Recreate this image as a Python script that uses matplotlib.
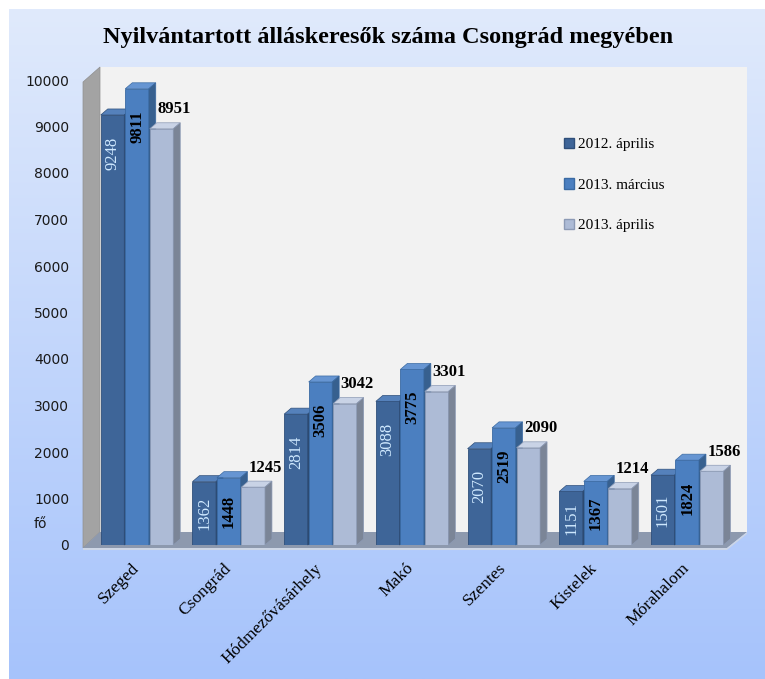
import numpy as np
import matplotlib
matplotlib.use("Agg")
import matplotlib.pyplot as plt
from matplotlib.patches import Polygon, Patch
from matplotlib.transforms import ScaledTranslation

# adatok
cities = ["Szeged", "Csongrád", "Hódmezővásárhely", "Makó", "Szentes", "Kistelek", "Mórahalom"]
apr_2012 = [9248, 1362, 2814, 3088, 2070, 1151, 1501]
mar_2013 = [9811, 1448, 3506, 3775, 2519, 1367, 1824]
apr_2013 = [8951, 1245, 3042, 3301, 2090, 1214, 1586]
series_names = ["2012. április", "2013. március", "2013. április"]
y_ticks = list(range(0, 10001, 1000))
title = "Nyilvántartott álláskeresők száma Csongrád megyében"

series = [apr_2012, mar_2013, apr_2013]
# front, top, side, edge
colors = [
    ("#3e6598", "#5581bb", "#2c4a72", "#2f4f7a"),
    ("#4b7fc0", "#6695d2", "#37608f", "#3a6aa3"),
    ("#adbbd6", "#c9d3e6", "#7b8597", "#8c9ab5"),
]
serif = "Liberation Serif"

W, H = 765, 679
fig = plt.figure(figsize=(W / 100, H / 100), dpi=100)
fig.patch.set_facecolor("white")

# hatter szinatmenet
bg = fig.add_axes([9 / W, 0, 1 - 9 / W, 1 - 9 / H])
grad = np.linspace(0, 1, 256).reshape(-1, 1)
top_c = np.array([0xe0, 0xea, 0xfc]) / 255
bot_c = np.array([0xa6, 0xc3, 0xfb]) / 255
img = top_c[None, None, :] * (1 - grad[:, :, None]) + bot_c[None, None, :] * grad[:, :, None]
bg.imshow(img, aspect="auto", extent=[0, 1, 0, 1])
bg.axis("off")

# fo tengely (elso sik: x 83..727 px, y 0 -> 545 px, 10000 -> 80 px)
ax = fig.add_axes([83 / W, (H - 545) / H, (727 - 83) / W, 465 / H])
ux = 91.7            # px / kategoria
uy = 465 / 10000     # px / fo
x0 = -(137 - 83) / ux
ax.set_xlim(x0, x0 + (727 - 83) / ux)
ax.set_ylim(0, 10000)
ax.patch.set_visible(False)
for s in ax.spines.values():
    s.set_visible(False)


def P(xp, yp):
    return (x0 + (xp - 83) / ux, (545 - yp) / uy)


# falak, padlo
back = Polygon([P(100, 532), P(747, 532), P(747, 67), P(100, 67)], closed=True,
               facecolor="#f2f2f2", edgecolor="none", zorder=0.5, clip_on=False)
left = Polygon([P(83, 548), P(83, 82), P(100, 67), P(100, 532)], closed=True,
               facecolor="#a3a3a3", edgecolor="#8f8f8f", lw=0.5, zorder=0.6, clip_on=False)
floor = Polygon([P(83, 548), P(727, 548), P(747, 532), P(100, 532)], closed=True,
                facecolor="#8d99ae", edgecolor="none", zorder=0.6, clip_on=False)
floor_edge = Polygon([P(83, 548), P(727, 548), P(747, 532), P(747, 534), P(727, 550), P(83, 550)],
                     closed=True, facecolor="#cdd6e6", edgecolor="none", zorder=0.7, clip_on=False)
for p in (back, left, floor, floor_edge):
    ax.add_patch(p)

bw = 23.5 / ux
step = 24.5 / ux
ddx = 7 / ux
ddy = 6 / uy
x = np.arange(len(cities))

for j, vals in enumerate(series):
    front, topc, side, edge = colors[j]
    for i, h in enumerate(vals):
        z = 2 + i * 4 + j
        xl = x[i] + (j - 1) * step - bw / 2
        ax.bar(xl, h, width=bw, align="edge", color=front, edgecolor=edge, lw=0.6, zorder=z)
        ax.add_patch(Polygon([(xl, h), (xl + bw, h), (xl + bw + ddx, h + ddy), (xl + ddx, h + ddy)],
                             closed=True, facecolor=topc, edgecolor=edge, lw=0.5, zorder=z, clip_on=False))
        ax.add_patch(Polygon([(xl + bw, 0), (xl + bw, h), (xl + bw + ddx, h + ddy), (xl + bw + ddx, ddy)],
                             closed=True, facecolor=side, edgecolor=edge, lw=0.5, zorder=z, clip_on=False))

# ertek feliratok
for j, vals in enumerate(series):
    for i, h in enumerate(vals):
        xc = x[i] + (j - 1) * step
        if j < 2:
            down = min(38, h * uy / 2) * 0.72
            ax.annotate(str(h), (xc, h), xytext=(0, -down), textcoords="offset points",
                        rotation=90, ha="center", va="center", fontsize=12, family=serif,
                        color="#cfe9ff" if j == 0 else "black",
                        fontweight="normal" if j == 0 else "bold", zorder=50)
        else:
            ax.annotate(str(h), (xc, h), xytext=(9, 14), textcoords="offset points",
                        ha="center", va="center", fontsize=12, family=serif,
                        fontweight="bold", color="black", zorder=50)

ax.set_yticks(y_ticks)
ax.tick_params(axis="y", length=0, pad=10, labelsize=10, labelcolor="#1a1a1a")
ax.set_xticks(x)
ax.set_xticklabels(cities, rotation=45, ha="right", va="top", rotation_mode="anchor",
                   fontsize=12.5, family=serif)
ax.tick_params(axis="x", length=0, pad=11)
shift = ScaledTranslation(-6 / 100, 0, fig.dpi_scale_trans)
for lbl in ax.get_xticklabels():
    lbl.set_transform(lbl.get_transform() + shift)

fig.text(40 / W, 1 - 524 / H, "fő", ha="center", va="center", fontsize=10, color="#1a1a1a")

handles = [Patch(facecolor=c[0], edgecolor=c[3]) for c in colors]
ax.legend(handles, series_names, loc="upper left", bbox_to_anchor=(550 / W, 1 - 124 / H),
          bbox_transform=fig.transFigure, frameon=False, prop={"family": serif, "size": 11},
          handlelength=0.7, handleheight=0.7, handletextpad=0.2, labelspacing=1.75)

fig.text(388 / W, 1 - 38 / H, title, ha="center", va="center", fontsize=17.5,
         fontweight="bold", family=serif)

fig.savefig("out.png", dpi=100)
